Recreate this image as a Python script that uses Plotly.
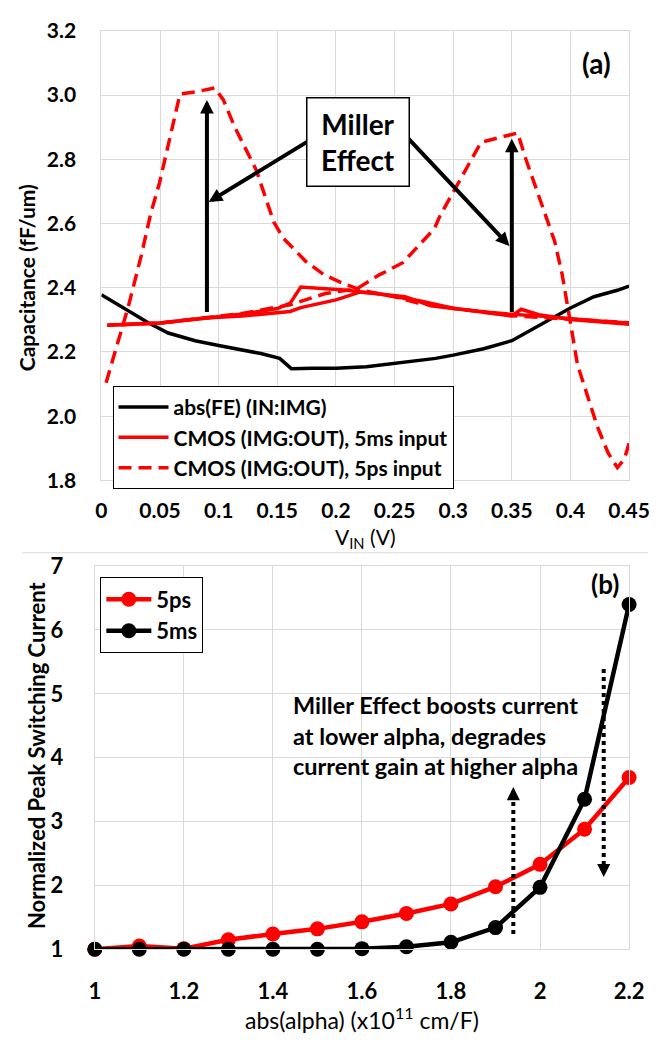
import plotly.graph_objects as go

W, H = 669, 1049

# ---------------- Panel (a) data ----------------
vin_fe = [0.0, 0.02, 0.04, 0.057, 0.08, 0.1, 0.12, 0.136, 0.152, 0.162, 0.18, 0.2, 0.226,
          0.25, 0.285, 0.3, 0.326, 0.35, 0.36, 0.38, 0.4, 0.42, 0.44, 0.45]
cap_fe = [2.378, 2.335, 2.291, 2.259, 2.235, 2.220, 2.205, 2.195, 2.180, 2.148, 2.149, 2.149, 2.154,
          2.165, 2.180, 2.190, 2.210, 2.235, 2.256, 2.296, 2.337, 2.372, 2.392, 2.405]

vin_5ms_fwd = [0.005, 0.05, 0.09, 0.12, 0.15, 0.161, 0.170, 0.19, 0.21, 0.221, 0.24, 0.259, 0.281,
               0.30, 0.33, 0.347, 0.38, 0.40, 0.43, 0.45]
cap_5ms_fwd = [2.283, 2.290, 2.306, 2.318, 2.335, 2.352, 2.402, 2.398, 2.392, 2.387, 2.380, 2.372, 2.344,
               2.335, 2.324, 2.318, 2.310, 2.303, 2.295, 2.290]
vin_5ms_rev = [0.45, 0.43, 0.40, 0.373, 0.358, 0.350, 0.33, 0.30, 0.273, 0.25, 0.235, 0.221,
               0.20, 0.17, 0.161, 0.12, 0.089, 0.05, 0.007]
cap_5ms_rev = [2.286, 2.292, 2.301, 2.316, 2.333, 2.312, 2.322, 2.336, 2.358, 2.372, 2.382, 2.387,
               2.362, 2.338, 2.326, 2.312, 2.306, 2.290, 2.284]

vin_5ps_fwd = [0.004, 0.013, 0.023, 0.034, 0.042, 0.0496, 0.058, 0.067, 0.08, 0.0967, 0.104, 0.114,
               0.132, 0.147, 0.155, 0.174, 0.19, 0.207, 0.218, 0.23, 0.25, 0.27, 0.30, 0.33, 0.35,
               0.40, 0.45]
cap_5ps_fwd = [2.104, 2.220, 2.342, 2.500, 2.630, 2.727, 2.860, 3.003, 3.010, 3.022, 2.985, 2.898,
               2.767, 2.605, 2.555, 2.483, 2.440, 2.412, 2.397, 2.386, 2.372, 2.352, 2.336, 2.322, 2.313,
               2.302, 2.291]
vin_5ps_rev = [0.45, 0.446, 0.44, 0.432, 0.423, 0.415, 0.406, 0.40, 0.393, 0.3865, 0.3725, 0.362,
               0.355, 0.3506, 0.3237, 0.303, 0.289, 0.284, 0.257, 0.237, 0.218, 0.191, 0.161, 0.12,
               0.09, 0.05, 0.005]
cap_5ps_rev = [1.916, 1.866, 1.840, 1.886, 1.967, 2.058, 2.160, 2.290, 2.440, 2.545, 2.687, 2.800,
               2.882, 2.878, 2.853, 2.717, 2.626, 2.584, 2.478, 2.440, 2.397, 2.382, 2.347, 2.320,
               2.306, 2.290, 2.283]

# ---------------- Panel (b) data ----------------
alpha = [1.0, 1.1, 1.2, 1.3, 1.4, 1.5, 1.6, 1.7, 1.8, 1.9, 2.0, 2.1, 2.2]
i_5ps = [1.00, 1.05, 1.01, 1.15, 1.24, 1.32, 1.43, 1.56, 1.71, 1.98, 2.33, 2.88, 3.69]
i_5ms = [1.00, 1.00, 1.00, 1.00, 1.00, 1.00, 1.01, 1.04, 1.11, 1.34, 1.97, 3.35, 6.40]

FONT = "Lato"
GRID = "#d9d9d9"


def px(xp):
    return xp / W


def py(yp):
    return 1 - yp / H


fig = go.Figure()

# panel (a)
fig.add_trace(go.Scatter(x=vin_fe, y=cap_fe, mode="lines", name="abs(FE) (IN:IMG)",
                         line=dict(color="black", width=3.5), xaxis="x", yaxis="y", legend="legend"))
fig.add_trace(go.Scatter(x=vin_5ms_fwd + [None] + vin_5ms_rev, y=cap_5ms_fwd + [None] + cap_5ms_rev,
                         mode="lines", name="CMOS (IMG:OUT), 5ms input", connectgaps=False,
                         line=dict(color="#ff0000", width=3.5), xaxis="x", yaxis="y", legend="legend"))
fig.add_trace(go.Scatter(x=vin_5ps_fwd + [None] + vin_5ps_rev, y=cap_5ps_fwd + [None] + cap_5ps_rev,
                         mode="lines", name="CMOS (IMG:OUT), 5ps input", connectgaps=False,
                         line=dict(color="#ff0000", width=3.5, dash="13px,7px"), xaxis="x", yaxis="y",
                         legend="legend"))

# panel (b)
fig.add_trace(go.Scatter(x=alpha, y=i_5ps, mode="lines+markers", name="5ps", legendrank=1,
                         line=dict(color="#ff0000", width=4.5), marker=dict(color="#ff0000", size=15),
                         cliponaxis=False, xaxis="x2", yaxis="y2", legend="legend2"))
fig.add_trace(go.Scatter(x=alpha, y=i_5ms, mode="lines+markers", name="5ms", legendrank=2,
                         line=dict(color="black", width=4.5), marker=dict(color="black", size=15),
                         cliponaxis=False, xaxis="x2", yaxis="y2", legend="legend2"))

axis_common = dict(showgrid=True, gridcolor=GRID, gridwidth=1, zeroline=False, showline=True,
                   linecolor=GRID, linewidth=1, mirror=True, ticks="")

fig.update_layout(
    width=W, height=H, margin=dict(l=0, r=0, t=0, b=0), autosize=False,
    paper_bgcolor="white", plot_bgcolor="white",
    font=dict(family=FONT, color="black"),
    xaxis=dict(domain=[px(99.4), px(649.3)], range=[0, 0.45], dtick=0.05, tick0=0, anchor="y",
               tickfont=dict(size=21, weight="bold", family=FONT), ticklabelstandoff=11, **axis_common),
    yaxis=dict(domain=[py(478.7), py(17.3)], range=[1.8, 3.2], dtick=0.2, tick0=1.8, tickformat=".1f",
               anchor="x", tickfont=dict(size=21, weight="bold", family=FONT), ticklabelstandoff=20,
               **axis_common),
    xaxis2=dict(domain=[px(92.5), px(649.3)], range=[1, 2.2], dtick=0.2, tick0=1, anchor="y2",
                tickfont=dict(size=22, weight="bold", family=FONT), ticklabelstandoff=22, **axis_common),
    yaxis2=dict(domain=[py(960), py(566.7)], range=[1, 7], dtick=1, tick0=1, anchor="x2",
                tickfont=dict(size=22, weight="bold", family=FONT), ticklabelstandoff=26, **axis_common),
    legend=dict(x=px(111), y=py(381.7), xanchor="left", yanchor="top", bgcolor="white",
                bordercolor="black", borderwidth=1, font=dict(size=21, weight="bold", family=FONT),
                itemwidth=50),
    legend2=dict(x=px(98.3), y=py(578.3), xanchor="left", yanchor="top", bgcolor="white",
                 bordercolor="black", borderwidth=1, font=dict(size=22, weight="bold", family=FONT),
                 traceorder="normal", itemwidth=45),
    showlegend=True,
)


def label(text, x, y, size, bold=False, angle=0, xanchor="center"):
    f = dict(size=size)
    if bold:
        f["weight"] = "bold"
    return dict(text=text, xref="paper", yref="paper", x=px(x), y=py(y), textangle=angle,
                xanchor=xanchor, yanchor="middle", showarrow=False, font=f, align="left")


ann = []
# axis titles
ann.append(label("Capacitance (fF/um)", 21, 271, 21, bold=True, angle=-90))
ann.append(label("V<sub>IN</sub> (V)", 374.4, 538, 21))
ann.append(label("Normalized Peak Switching Current", 32, 761, 22, bold=True, angle=-90))
ann.append(label("abs(alpha) (x10<sup>11</sup> cm/F)", 370.8, 1031, 23))
# panel labels
ann.append(label("(a)", 615, 50, 28, bold=True))
ann.append(label("(b)", 624, 585, 26, bold=True))

# panel (a) arrows (tail -> head)
arrows_a = [((0.09, 2.32), (0.09, 2.985)), ((0.35, 2.32), (0.35, 2.864)),
            ((0.177, 2.858), (0.0915, 2.667)), ((0.2608, 2.868), (0.348, 2.53))]
for (tx, ty), (hx, hy) in arrows_a:
    ann.append(dict(text="", x=hx, y=hy, ax=tx, ay=ty, xref="x", yref="y", axref="x", ayref="y",
                    showarrow=True, arrowhead=2, arrowsize=0.68, arrowwidth=4, arrowcolor="black",
                    standoff=0, startstandoff=0))
ann.append(dict(text="<b>Miller<br>Effect</b>", xref="paper", yref="paper", x=px(366.9), y=py(131),
                xanchor="center", yanchor="middle",
                showarrow=False, font=dict(size=28), bgcolor="white", bordercolor="black",
                borderwidth=1.5, borderpad=1, width=99, height=85))

# panel (b) dotted arrows
dotted = [((1.94, 1.24), (1.94, 3.54)), ((2.143, 5.39), (2.143, 2.13))]
shapes = []
for (tx, ty), (hx, hy) in dotted:
    sign = 1 if hy > ty else -1
    shapes.append(dict(type="line", xref="x2", yref="y2", x0=tx, y0=ty, x1=hx, y1=hy - sign * 0.15,
                       line=dict(color="black", width=4, dash="dot")))
    ann.append(dict(text="", x=hx, y=hy, ax=0, ay=12 * sign, xref="x2", yref="y2", showarrow=True,
                    arrowhead=2, arrowsize=0.87, arrowwidth=3, arrowcolor="black", standoff=0))
ann.append(label("Miller Effect boosts current<br>at lower alpha, degrades<br>current gain at higher alpha",
                 296.5, 741, 23.5, bold=True, xanchor="left"))

# separator between the two panels
shapes.append(dict(type="line", xref="paper", yref="paper", x0=px(17), x1=1, y0=py(553), y1=py(553),
                   line=dict(color=GRID, width=1)))

fig.update_layout(annotations=ann, shapes=shapes)
fig.write_html("out.html")
